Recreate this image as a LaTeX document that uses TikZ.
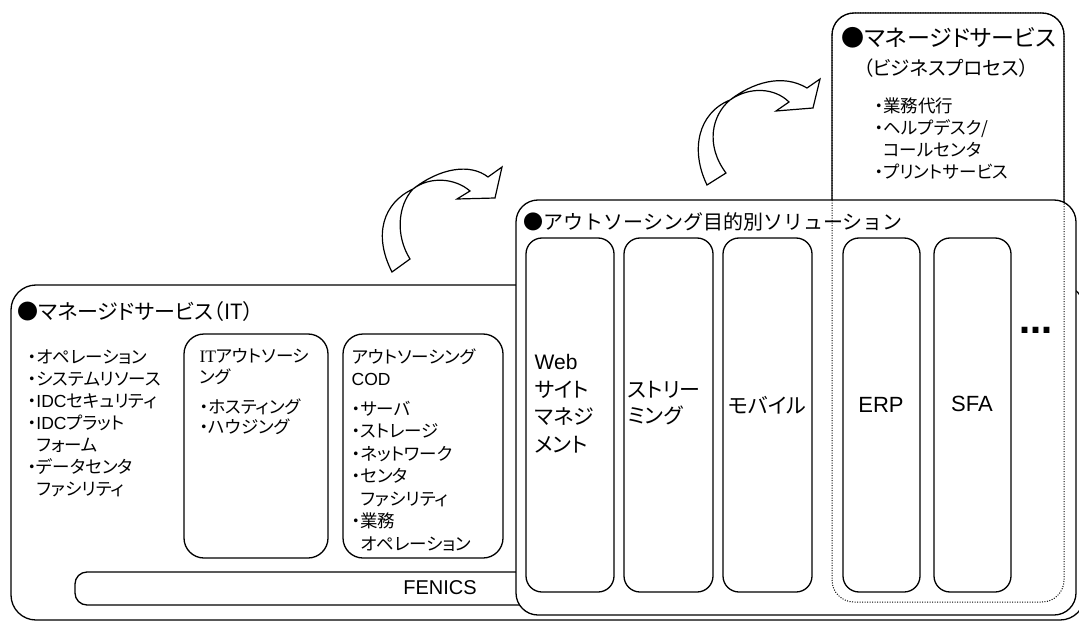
\documentclass[tikz,border=0pt]{standalone}
\usepackage{fontspec}
\setmainfont{Noto Sans CJK JP}[RawFeature=+palt]
\newfontfamily\fixjp{Noto Sans CJK JP}
\newfontfamily\lat{Liberation Sans}
\newfontfamily\ser{Liberation Serif}
\newfontfamily\dvs{DejaVu Sans}
\begin{document}
\begin{tikzpicture}[x=1pt,y=-1pt,line width=1.3pt,
  panel/.style={draw=black,fill=white,rounded corners=#1},
  dottedpanel/.style={draw=black,line width=1pt,dash pattern=on 1pt off 1.5pt,rounded corners=22},
  arrowshape/.style={draw=black,fill=white,line width=1.2pt,line join=miter},
  blk/.style={inner sep=0,anchor=north west,align=left},
  title/.style={inner sep=0,font=\fontsize{21}{21}\selectfont},
  list/.style={font=\fontsize{17.5}{22}\selectfont},
  coltext/.style={inner sep=0,font=\fontsize{21}{27.5}\selectfont}]
\useasboundingbox (0,0) rectangle (1079,623);
\clip (0,0) rectangle (1079,623);

% managed services (IT)
\draw[panel=25] (11,285) rectangle (1085,620);
\draw[panel=12] (75,572) rectangle (600,605);
\draw[panel=20] (184,334) rectangle (328,558);
\draw[panel=20] (343,334) rectangle (503,558);

% curved arrows
\draw[arrowshape] (392,272) .. controls (373,235) and (383,203) .. (413,189)
  .. controls (440,168) and (470,163) .. (488,177) -- (502,167) -- (495,198) -- (457,199) -- (470,191)
  .. controls (455,178) and (430,176) .. (413,189)
  .. controls (398,205) and (395,235) .. (410,259) -- cycle;
\draw[arrowshape] (707,185) .. controls (690,150) and (698,113) .. (730,100)
  .. controls (752,83) and (782,73) .. (807,88) -- (820,79) -- (813,108) -- (776,111) -- (789,102)
  .. controls (775,88) and (750,86) .. (730,100)
  .. controls (712,115) and (705,145) .. (726,173) -- cycle;

% managed services (business process)
\draw[panel=22] (832,13) rectangle (1064,602);

% outsourcing solutions
\draw[panel=22] (516,200) rectangle (1076,615);
\draw[dottedpanel] (832,13) rectangle (1064,602);
\draw[panel=16] (526,238) rectangle (614,592);
\draw[panel=16] (624,238) rectangle (713,592);
\draw[panel=16] (723,238) rectangle (812,592);
\draw[panel=16] (843,238) rectangle (920,592);
\draw[panel=16] (934,238) rectangle (1011,592);

% texts
\node[title,anchor=west] (t1) at (17,312) {●マネージドサービス（IT）};
\node[blk,list] (l1) at (27,349) {・オペレーション\\・システムリソース\\・{\lat IDC}セキュリティ\\・{\lat IDC}プラット\\\hphantom{・}フォーム\\・データセンタ\\\hphantom{・}ファシリティ};
\node[blk,font=\fontsize{17.5}{20.5}\selectfont] (l2) at (199,348) {{\ser IT}アウトソーシ\\ング\\[9.5pt]・ホスティング\\・ハウジング};
\node[blk,font=\fontsize{17.5}{22.5}\selectfont] (l3) at (351,348) {アウトソーシング\\{\lat COD}\\[7pt]・サーバ\\・ストレージ\\・ネットワーク\\・センタ\\\hphantom{・}ファシリティ\\・業務\\\hphantom{・}オペレーション};
\node[inner sep=0,font=\lat\fontsize{20}{20}\selectfont] (fen) at (440,588) {FENICS};

\node[inner sep=0,font=\fontsize{23}{23}\selectfont] (t3) at (949,38) {●マネージドサービス};
\node[inner sep=0,font=\fontsize{19.5}{19.5}\selectfont] (t3b) at (946,68) {（ビジネスプロセス）};
\node[blk,list] (l4) at (874,97) {・業務代行\\・ヘルプデスク/\\\hphantom{・}コールセンタ\\・プリントサービス};

\node[inner sep=0,anchor=west,font=\fixjp\fontsize{20}{20}\selectfont] (t2) at (523,222) {●アウトソーシング目的別ソリューション};
\node[blk,coltext] (c1) at (534,354) {{\lat Web}\\サイト\\マネジ\\メント};
\node[blk,coltext,font=\fontsize{21}{26}\selectfont] (c2) at (627,381) {ストリー\\ミング};
\node[coltext] (c3) at (767,405) {モバイル};
\node[inner sep=0,font=\lat\fontsize{22}{22}\selectfont] (c4) at (881,405) {ERP};
\node[inner sep=0,font=\lat\fontsize{22}{22}\selectfont] (c5) at (972,404) {SFA};
\node[inner sep=0,font=\dvs\bfseries\fontsize{33}{33}\selectfont] (dots) at (1036,330) {…};
\end{tikzpicture}
\end{document}
